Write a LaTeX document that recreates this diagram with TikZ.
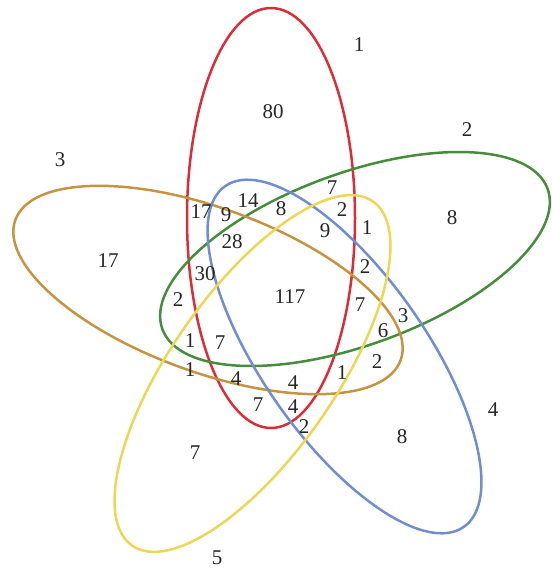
\documentclass[tikz,border=0pt]{standalone}
\usepackage{fontspec}
\setmainfont{Liberation Serif}
\definecolor{cred}{RGB}{218,45,55}
\definecolor{cgreen}{RGB}{70,140,60}
\definecolor{corange}{RGB}{196,148,66}
\definecolor{cblue}{RGB}{112,142,205}
\definecolor{cyellow}{RGB}{236,214,88}
\begin{document}
\begin{tikzpicture}[x=1pt,y=-1pt,
  setline/.style={line width=2.5pt},
  num/.style={inner sep=0pt,font=\fontsize{21}{21}\selectfont,text=black!85}]
\useasboundingbox (0,0) rectangle (551,572);
\begin{scope}
\clip (0,0) rectangle (551,572);
\draw[setline,cred] (271,218) ellipse (84 and 210);
\draw[setline,cgreen,rotate around={20:(355,259)}] (355,259) ellipse (205 and 86);
\draw[setline,corange,rotate around={-20:(208,290)}] (208,290) ellipse (205 and 82);
\draw[setline,cblue,rotate around={-55:(344.5,356.5)}] (344.5,356.5) ellipse (208 and 82);
\draw[setline,cyellow,rotate around={55:(252.5,373.5)}] (252.5,373.5) ellipse (210 and 82);
\end{scope}
% set labels
\node[num] (s1) at (359,45) {1};
\node[num] (s2) at (467,130) {2};
\node[num] (s3) at (60,160) {3};
\node[num] (s4) at (493,410) {4};
\node[num] (s5) at (217,558) {5};
% region counts
\node[num] (r80) at (273,112) {80};
\node[num] (r8a) at (452,218) {8};
\node[num] (r17a) at (108,261) {17};
\node[num] (r8b) at (402,437) {8};
\node[num] (r7a) at (195,453) {7};
\node[num] (r117) at (290,297) {117};
\node[num] (r7b) at (332,188) {7};
\node[num] (r17b) at (201,212) {17};
\node[num] (r9a) at (226,215) {9};
\node[num] (r14) at (248,201) {14};
\node[num] (r8c) at (281,209) {8};
\node[num] (r2a) at (342,210) {2};
\node[num] (r9b) at (325,231) {9};
\node[num] (r1a) at (367,228) {1};
\node[num] (r28) at (232,242) {28};
\node[num] (r30) at (205,274) {30};
\node[num] (r2b) at (365,267) {2};
\node[num] (r2c) at (178,300) {2};
\node[num] (r7c) at (360,305) {7};
\node[num] (r3) at (403,316) {3};
\node[num] (r6) at (383,331) {6};
\node[num] (r1b) at (190,341) {1};
\node[num] (r7d) at (220,343) {7};
\node[num] (r1c) at (190,370) {1};
\node[num] (r4a) at (236,379) {4};
\node[num] (r4b) at (293,383) {4};
\node[num] (r1d) at (342,373) {1};
\node[num] (r2d) at (377,362) {2};
\node[num] (r7e) at (258,405) {7};
\node[num] (r4c) at (293,407) {4};
\node[num] (r2e) at (304,427) {2};
\end{tikzpicture}
\end{document}
